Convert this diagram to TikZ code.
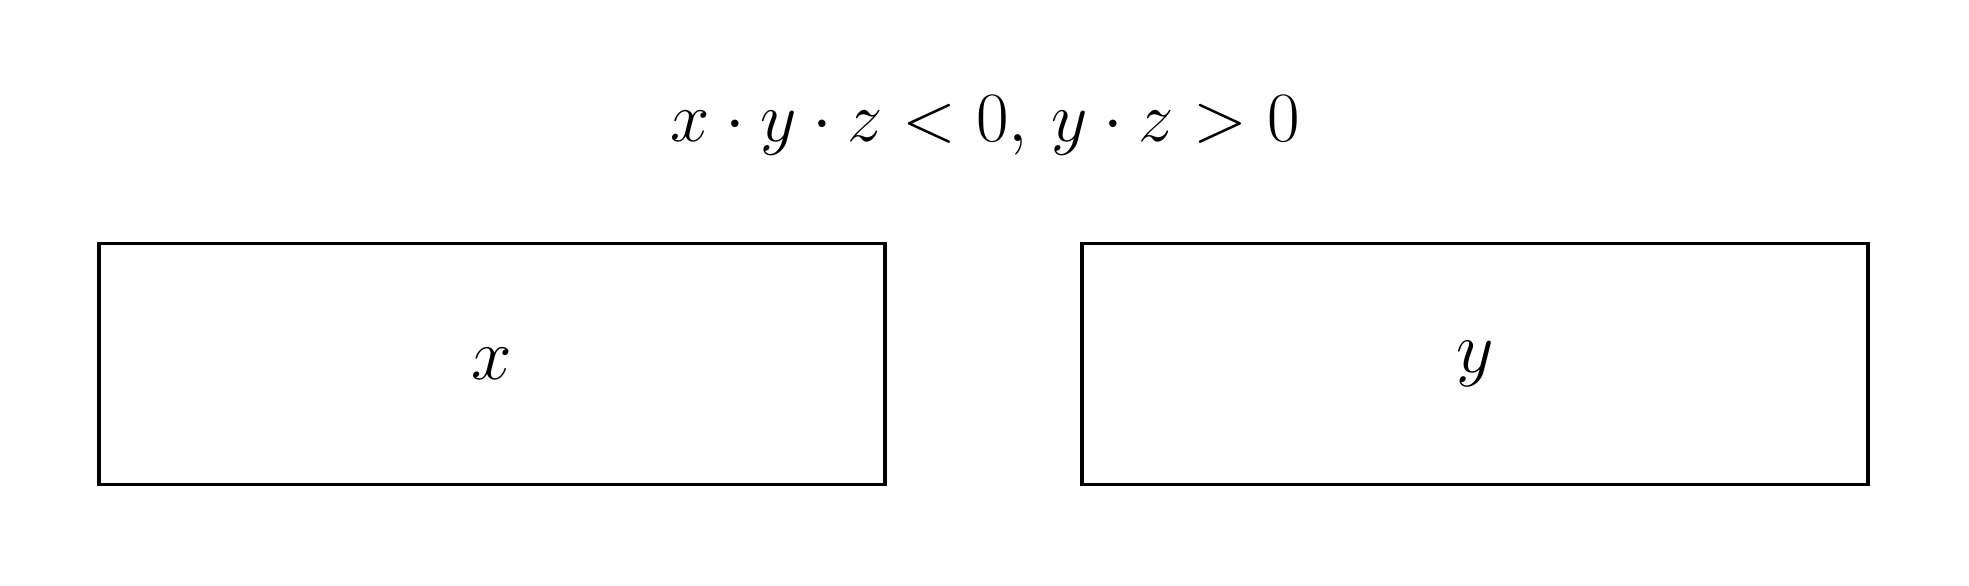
\documentclass[tikz,border=0pt]{standalone}
\usepackage{amsmath}
\usepackage{amssymb}
\usepackage{tikz}
\usetikzlibrary{positioning}

\tikzset{
varbox/.style={draw, line width=1.1pt, minimum width=7.86cm, minimum height=2.41cm, inner sep=0pt, font=\huge},
}

\begin{document}
\begin{tikzpicture}
\useasboundingbox (0,0) rectangle (19.69,5.85);
\node[font=\huge, scale=0.97, transform shape] (cond) at (9.85,4.59) {$x \cdot y \cdot z < 0,\, y \cdot z > 0$};
\foreach \x/\var in {4.92/x, 14.75/y}{
\node[varbox] (box\var) at (\x,2.21) {$\var$};
}
\end{tikzpicture}
\end{document}
